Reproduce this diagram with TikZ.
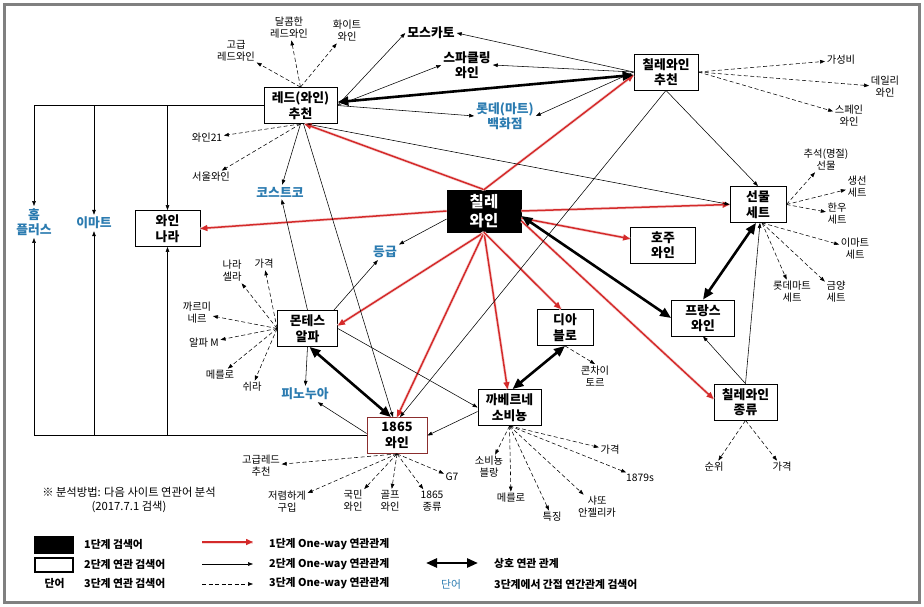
\documentclass[tikz,border=0pt]{standalone}
\usepackage{fontspec}
\setmainfont{Noto Sans CJK KR}
\usepackage{tikz}
\usetikzlibrary{arrows.meta}
\definecolor{cred}{HTML}{D42A2A}
\definecolor{cblue}{HTML}{2B7BB0}
\definecolor{cframe}{HTML}{808080}
\definecolor{cwine}{HTML}{8B2E2E}
\newcommand{\kwfont}{\fontsize{12.8}{15.5}\selectfont\bfseries}
\newcommand{\seedfont}{\fontsize{15.5}{19}\selectfont\bfseries}
\newcommand{\subfont}{\fontsize{10.3}{12}\selectfont}
\newcommand{\legfont}{\fontsize{10.8}{13}\selectfont\bfseries}
\tikzset{
  % keyword box, width given per node
  kw/.style     = {rectangle, draw=black, fill=white, line width=0.8pt, align=center,
                   inner sep=1pt, font=\kwfont, minimum width=#1, minimum height=36pt},
  kw/.default   = 62pt,
  seed/.style   = {kw=#1, fill=black, text=white, minimum height=42pt, font=\seedfont},
  bword/.style  = {align=center, inner sep=2pt, font=\kwfont, text=cblue},
  tword/.style  = {align=center, inner sep=2pt, font=\kwfont},
  sub/.style    = {align=center, inner sep=1.5pt, font=\subfont},
  lgtext/.style = {inner sep=1pt, font=\legfont},
  rarr/.style   = {-{Triangle[length=7pt,width=6pt]}, cred, line width=1.5pt,
                   preaction={draw=cred!18, line width=3pt, -}},
  arr/.style    = {-{Triangle[length=5pt,width=3.6pt]}, line width=0.55pt},
  darr/.style   = {arr, dash pattern=on 4pt off 2.5pt},
  mutual/.style = {{Triangle[length=11pt,width=9pt]}-{Triangle[length=11pt,width=9pt]},
                   line width=2.6pt},
}

\begin{document}
\begin{tikzpicture}[x=1pt,y=-1pt]
\useasboundingbox (0,0) rectangle (924,607);
\draw[cframe, line width=3pt] (4.5,4.5) rectangle (919,602);

% ---- keyword boxes ---------------------------------------------------
\node[seed=74pt] (chile) at (484,211) {칠레\\와인};
\node[kw=73pt] (redrec) at (300.5,105.5) {레드(와인)\\추천};
\node[kw=64pt] (chrec) at (666,72) {칠레와인\\추천};
\node[kw=65pt] (nara) at (167.5,228.5) {와인\\나라};
\node[kw=56pt] (gift) at (758,204.5) {선물\\세트};
\node[kw=65pt] (aus) at (663,245) {호주\\와인};
\node[kw=63pt] (france) at (703,318) {프랑스\\와인};
\node[kw=63pt] (chkind) at (745.5,402) {칠레와인\\종류};
\node[kw=60pt] (montes) at (307.5,328.5) {몬테스\\알파};
\node[kw=56pt] (diablo) at (565,327.5) {디아\\블로};
\node[kw=63pt] (cab) at (509.5,407.5) {까베르네\\소비뇽};
\node[kw=60pt, draw=cwine] (w1865) at (397,435.5) {1865\\와인};

% ---- free words --------------------------------------------------------
\node[bword] (homeplus) at (34,222) {홈\\플러스};
\node[bword] (emart) at (94,223) {이마트};
\node[bword] (costco) at (280,192) {코스트코};
\node[bword] (grade) at (385,252) {등급};
\node[bword] (lotte) at (505,116) {롯데(마트)\\백화점};
\node[bword] (pinot) at (305,394) {피노누아};
\node[tword] (moscato) at (431,33) {모스카토};
\node[tword] (sparkling) at (467,65) {스파클링\\와인};

% ---- third level words ---------------------------------------------------
\node[sub] (hiend) at (236,51) {고급\\레드와인};
\node[sub] (sweet) at (289,28) {달콤한\\레드와인};
\node[sub] (white) at (347,31) {화이트\\와인};
\node[sub] (w21) at (207,138) {와인21};
\node[sub] (seoul) at (211,177) {서울와인};
\node[sub] (value) at (841,60) {가성비};
\node[sub] (daily) at (885,87) {데일리\\와인};
\node[sub] (spain) at (849,116) {스페인\\와인};
\node[sub] (chuseok) at (826,160) {추석(명절)\\선물};
\node[sub] (fish) at (857,187) {생선\\세트};
\node[sub] (hanwoo) at (837,214) {한우\\세트};
\node[sub] (emartset) at (855,249) {이마트\\세트};
\node[sub] (lotteset) at (792,292) {롯데마트\\세트};
\node[sub] (geumyang) at (836,292) {금양\\세트};
\node[sub] (narasella) at (232,271) {나라\\셀라};
\node[sub] (mprice) at (264,264) {가격};
\node[sub] (carmen) at (197,313) {까르미\\네르};
\node[sub] (alpham) at (204,343) {알파 M};
\node[sub] (mmerlot) at (220,375) {메를로};
\node[sub] (shiraz) at (252,387) {쉬라};
\node[sub] (concha) at (595,376) {콘차이\\토르};
\node[sub] (sblanc) at (489,467) {소비뇽\\블랑};
\node[sub] (cmerlot) at (511,498) {메를로};
\node[sub] (feature) at (552,517) {특징};
\node[sub] (chateau) at (597,507) {샤또\\안젤리카};
\node[sub] (c1879) at (640,478) {1879s};
\node[sub] (cprice) at (610,450) {가격};
\node[sub] (hired) at (261,466) {고급레드\\추천};
\node[sub] (cheap) at (287,502) {저렴하게\\구입};
\node[sub] (national) at (353,501) {국민\\와인};
\node[sub] (golf) at (390,501) {골프\\와인};
\node[sub] (kinds) at (432,501) {1865\\종류};
\node[sub] (g7) at (452,477) {G7};
\node[sub] (rank) at (714,467) {순위};
\node[sub] (kprice) at (782,467) {가격};

% ---- level 1: red links ------------------------------------------------
\draw[rarr] (chile.north) -- ([xshift=4pt]redrec.south);
\draw[rarr] (chile.north) -- ([yshift=-3pt]chrec.west);
\draw[rarr] (chile.west) -- (nara.east);
\draw[rarr] (chile.east) -- (gift.west);
\draw[rarr] (chile) -- (aus);
\draw[rarr] ([yshift=-10pt]chile.east) -- ([yshift=3pt]chkind.west);
\draw[rarr] (chile.south) -- ([yshift=3pt]montes.east);
\draw[rarr] (chile.south) -- (w1865.north);
\draw[rarr] (chile.south) -- ([xshift=-2pt]cab.north);
\draw[rarr] (chile.south) -- ([xshift=-4pt]diablo.north);

% ---- mutual links ------------------------------------------------------
\draw[mutual] (redrec) -- (chrec);
\draw[mutual] ([yshift=-5pt]chile.east) -- (france.west);
\draw[mutual] ([xshift=-2pt]gift.south) -- (france.north);
\draw[mutual] ([xshift=2pt]montes.south) -- ([xshift=-6pt]w1865.north);
\draw[mutual] (diablo.south) -- ([xshift=3pt]cab.north);

% ---- level 2: thin links -----------------------------------------------
\foreach \w in {moscato,sparkling,lotte} {
  \draw[arr] (redrec.east) -- (\w.west);
  \draw[arr] (chrec.west) -- (\w.east);
}
\foreach \w in {homeplus,emart,nara} {
  \draw[arr] (redrec.west) -| (\w);
  \draw[arr] (w1865.west) -| (\w);
}
\draw[arr] (redrec.south) -- (costco);
\draw[arr] ([xshift=3pt]redrec.south) -- ([xshift=-4pt]w1865.north);
\draw[arr] ([xshift=6pt]redrec.south) -- (gift.west);
\draw[arr] (montes.north) -- (costco);
\draw[arr] ([xshift=-4pt]montes.north east) -- (grade);
\draw[arr] ([yshift=-8pt]chile.west) -- (grade);
\draw[arr] (montes.south) -- (pinot);
\draw[arr] ([yshift=2pt]w1865.west) -- (pinot);
\draw[arr] (montes.east) -- (cab.west);
\draw[arr] ([yshift=-4pt]cab.west) -- (w1865.east);
\draw[arr] (chrec.south) -- ([xshift=3pt]w1865.north);
\draw[arr] (chrec.south) -- (gift.north);
\draw[arr] (chkind.north) -- (france.south);
\draw[arr] (chkind.north) -- ([xshift=2pt]gift.south);

% ---- level 3: dashed links ---------------------------------------------
\foreach \w in {hiend,sweet,white} \draw[darr] (redrec.north) -- (\w);
\foreach \w in {w21,seoul} \draw[darr] (redrec.south) -- (\w);
\foreach \w in {value,daily,spain} \draw[darr] (chrec.east) -- (\w);
\foreach \w in {chuseok,fish,hanwoo} \draw[darr] (gift.east) -- (\w);
\foreach \w in {emartset,lotteset,geumyang} \draw[darr] ([xshift=4pt]gift.south) -- (\w);
\foreach \w in {narasella,mprice,carmen,alpham,mmerlot,shiraz} \draw[darr] (montes.west) -- (\w);
\draw[darr] (diablo.south) -- (concha.north);
\foreach \w in {sblanc,cmerlot,feature,chateau,c1879,cprice} \draw[darr] (cab.south) -- (\w);
\foreach \w in {hired,cheap,national,golf,kinds,g7} \draw[darr] (w1865.south) -- (\w);
\foreach \w in {rank,kprice} \draw[darr] (chkind.south) -- (\w);

% ---- note --------------------------------------------------------------
\node[align=center, inner sep=1pt, font=\fontsize{11.3}{13.5}\selectfont] (note) at (129,500)
      {※ 분석방법: 다음 사이트 연관어 분석\\(2017.7.1 검색)};

% ---- legend ------------------------------------------------------------
\node[fill=black, minimum width=40pt, minimum height=18pt, inner sep=0pt] (lgseed) at (54,545) {};
\node[draw, line width=2.4pt, minimum width=37.5pt, minimum height=14.5pt, inner sep=0pt] (lgkw) at (54,565) {};
\node[lgtext] (lgword) at (54.5,583) {단어};
\node[lgtext, anchor=west] (lg1) at (83,544) {1단계 검색어};
\node[lgtext, anchor=west] (lg2) at (83,564) {2단계 연관 검색어};
\node[lgtext, anchor=west] (lg3) at (83,583) {3단계 연관 검색어};
\foreach \y/\s [count=\i] in {542/rarr,564/arr,584/darr} {
  \coordinate (la\i) at (202,\y);
  \coordinate (lb\i) at (253,\y);
  \draw[\s] (la\i) -- (lb\i);
}
\node[lgtext, anchor=west] (lr1) at (268,544) {1단계 One-way 연관관계};
\node[lgtext, anchor=west] (lr2) at (268,564) {2단계 One-way 연관관계};
\node[lgtext, anchor=west] (lr3) at (268,583) {3단계 One-way 연관관계};
\coordinate (lm1) at (426,563);
\coordinate (lm2) at (478,563);
\draw[mutual] (lm1) -- (lm2);
\node[lgtext, text=cblue, font=\fontsize{10.8}{13}\selectfont] (lgblue) at (451,584) {단어};
\node[lgtext, anchor=west] (lm) at (493,563) {상호 연관 관계};
\node[lgtext, anchor=west] (lmb) at (493,584) {3단계에서 간접 연간관계 검색어};
\end{tikzpicture}
\end{document}
